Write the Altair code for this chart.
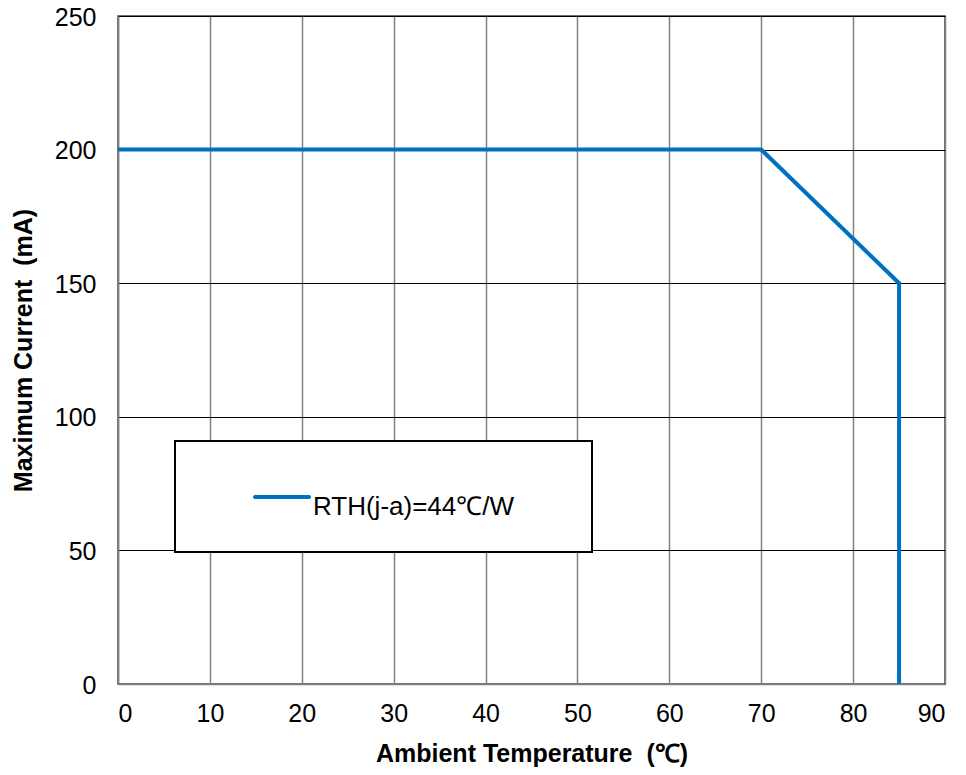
import altair as alt
import pandas as pd

temps = [0, 70, 85, 85]
currents = [200, 200, 150, 0]
legend_label = ["RTH(j-a)=44℃/W"]

df = pd.DataFrame({"t": temps, "i": currents, "s": legend_label * len(temps)})

W, H = 827, 668

base = alt.Chart(df)

line = base.mark_line(color="#0070C0", strokeWidth=4, strokeJoin="miter").encode(
    x=alt.X("t:Q", scale=alt.Scale(domain=[0, 90], nice=False),
            axis=alt.Axis(values=list(range(0, 91, 10)), title="Ambient Temperature\u00a0\u00a0(℃)",
                          grid=True, gridColor="#808080", gridWidth=1.5,
                          domainColor="#808080", domainWidth=1.5,
                          ticks=False, labelPadding=17, titlePadding=15)),
    y=alt.Y("i:Q", scale=alt.Scale(domain=[0, 250], nice=False),
            axis=alt.Axis(values=list(range(0, 251, 50)), title="Maximum Current\u00a0\u00a0(mA)",
                          grid=True, gridColor="#000000", gridWidth=1,
                          domainColor="#808080", domainWidth=1.5,
                          ticks=False, labelPadding=22, labelOffset=1, titlePadding=18)),
    order=alt.Order("t:Q"),
)

box = alt.Chart(pd.DataFrame({"s": legend_label})).mark_rect(
    fill="white", stroke="black", strokeWidth=2
).encode(x=alt.value(57), x2=alt.value(474), y=alt.value(425), y2=alt.value(536))

sample = alt.Chart(pd.DataFrame({"s": legend_label})).mark_rule(
    color="#0070C0", strokeWidth=4, strokeCap="round"
).encode(x=alt.value(137), x2=alt.value(191), y=alt.value(481))

label = alt.Chart(pd.DataFrame({"s": legend_label})).mark_text(
    align="left", baseline="alphabetic", fontSize=26, font="Liberation Sans", color="black"
).encode(text="s:N", x=alt.value(195), y=alt.value(499))

chart = alt.layer(box, line, sample, label).properties(
    width=W, height=H,
    padding={"left": 110, "top": 8, "right": 10, "bottom": 83},
    autosize=alt.AutoSizeParams(type="none"),
).configure_view(stroke="#404040", strokeWidth=1.5).configure_axis(
    labelFont="Liberation Sans", labelFontSize=25, labelColor="black",
    titleFont="Liberation Sans", titleFontSize=25, titleFontWeight="bold", titleColor="black",
)

chart.save("out.html", embed_options={"renderer": "svg", "actions": False})
